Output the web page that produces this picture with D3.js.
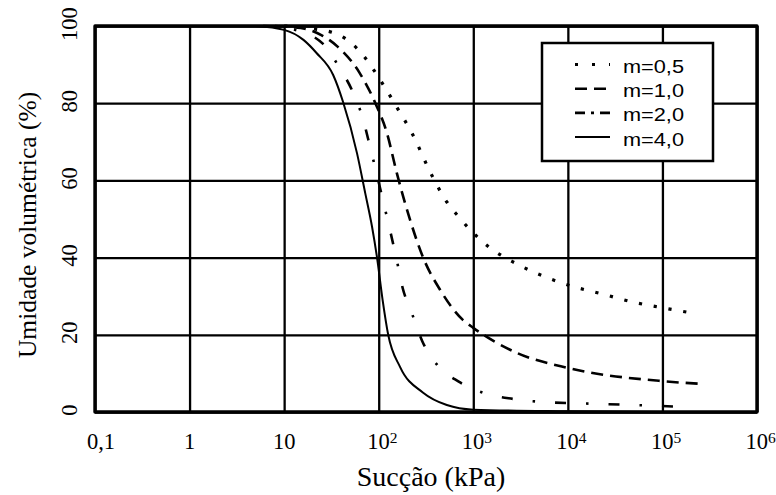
<!DOCTYPE html>
<html>
<head>
<meta charset="utf-8">
<script src="https://cdn.jsdelivr.net/npm/d3@7"></script>
<style>
  html, body { margin: 0; padding: 0; background: #fff; }
  svg { display: block; }
</style>
</head>
<body>
<svg id="chart" width="776" height="495"></svg>
<script>
// ---------- DATA ----------
const seriesNames = ["m=0,5", "m=1,0", "m=2,0", "m=4,0"];

// m = 0,5 (dotted)
const suctionM05 = [10, 20, 38, 68, 102, 155, 224, 363, 525, 676, 1450, 2760, 5500, 11000, 23000, 48000, 100000, 210000];
const moistM05   = [100, 99.3, 97.7, 92.5, 86.3, 79, 72.3, 61.4, 54.4, 51, 42.8, 38.6, 35.2, 32.6, 30.6, 28.5, 27, 25.6];

// m = 1,0 (dashed)
const suctionM10 = [8, 15, 25, 37, 63, 91, 122, 155, 215, 295, 447, 780, 1000, 2900, 10000, 100000, 250000];
const moistM10   = [100, 99.5, 97.6, 94.6, 87.8, 80.3, 72.3, 62, 49.7, 40, 31.6, 23.8, 21.8, 15.3, 11.4, 8, 7.3];

// m = 2,0 (dash-dot)
const suctionM20 = [6, 12, 26, 38, 53, 68, 81, 112, 132, 155, 178, 224, 288, 415, 710, 1300, 2600, 5400, 21000, 87000, 170000];
const moistM20   = [100, 99.2, 95.3, 89.4, 83, 76, 68.7, 54.4, 47, 39.4, 32.4, 25.6, 18.4, 12.2, 7.8, 4.9, 3.4, 2.6, 2.1, 1.6, 1.3];

// m = 4,0 (solid)
const suctionM40 = [5, 10, 16, 22, 33, 42, 59, 72, 85, 96, 110, 126, 168, 295, 525, 1000, 10000, 100000];
const moistM40   = [100, 99, 96.4, 93, 87.3, 80.3, 67, 56.7, 48, 40, 29, 20, 11.7, 5, 1.8, 0.6, 0.2, 0];

const xTicks     = [0.1, 1, 10, 100, 1000, 10000, 100000, 1000000];
const xTickBase  = ["0,1", "1", "10", "10", "10", "10", "10", "10"];
const xTickExp   = ["", "", "", "2", "3", "4", "5", "6"];
const yTicks     = [0, 20, 40, 60, 80, 100];
const yTickLabels = ["0", "20", "40", "60", "80", "100"];

const xTitle = "Sucção (kPa)";
const yTitle = "Umidade volumétrica (%)";

// ---------- LAYOUT ----------
const svg = d3.select("#chart");
const L = 95, R = 757, T = 26, B = 412;

const x = d3.scaleLog().domain([0.1, 1e6]).range([L, R]);
const y = d3.scaleLinear().domain([0, 100]).range([B, T]);

const serif = "'Liberation Serif', 'Times New Roman', Times, serif";
const sans = "'Liberation Sans', Arial, Helvetica, sans-serif";

// grid via axes
const gx = svg.append("g")
  .attr("transform", `translate(0,${B})`)
  .call(d3.axisBottom(x).tickValues(xTicks).tickSize(-(B - T)).tickFormat(""));
gx.select(".domain").remove();
gx.selectAll(".tick line").attr("stroke", "#000").attr("stroke-width", 2.3);

const gy = svg.append("g")
  .attr("transform", `translate(${L},0)`)
  .call(d3.axisLeft(y).tickValues(yTicks).tickSize(-(R - L)).tickFormat(""));
gy.select(".domain").remove();
gy.selectAll(".tick line").attr("stroke", "#000").attr("stroke-width", 2.3);

// ---------- CURVES ----------
const line = d3.line()
  .x(d => x(d[0]))
  .y(d => y(d[1]))
  .curve(d3.curveMonotoneX);

const styles = [
  { dash: "3.2,11.8", width: 3.2 },
  { dash: "12,7", width: 2.6 },
  { dash: "11,20,2.5,20", width: 2.6 },
  { dash: null, width: 2 }
];
const series = [
  d3.zip(suctionM05, moistM05),
  d3.zip(suctionM10, moistM10),
  d3.zip(suctionM20, moistM20),
  d3.zip(suctionM40, moistM40)
];

series.forEach((pts, i) => {
  svg.append("path")
    .attr("d", line(pts))
    .attr("fill", "none")
    .attr("stroke", "#000")
    .attr("stroke-width", styles[i].width)
    .attr("stroke-dasharray", styles[i].dash);
});

// ---------- FRAME ----------
svg.append("rect")
  .attr("x", L).attr("y", T)
  .attr("width", R - L).attr("height", B - T)
  .attr("fill", "none")
  .attr("stroke", "#000")
  .attr("stroke-width", 3.4)
  .attr("stroke-linejoin", "round");

// ---------- TICK LABELS ----------
xTicks.forEach((v, i) => {
  const t = svg.append("text")
    .attr("y", 449)
    .attr("font-family", serif)
    .attr("font-size", 22.5)
    .attr("fill", "#000");
  if (xTickExp[i]) {
    t.attr("x", x(v) - 11.5).attr("text-anchor", "start");
    t.append("tspan").text(xTickBase[i]);
    t.append("tspan").attr("font-size", 15.5).attr("dy", -6.5).text(xTickExp[i]);
  } else {
    t.attr("x", x(v) + (i === 0 ? 6 : 0)).attr("text-anchor", "middle").text(xTickBase[i]);
  }
});

yTicks.forEach((v, i) => {
  svg.append("text")
    .attr("transform", `translate(77,${y(v) - 2}) rotate(-90)`)
    .attr("text-anchor", "middle")
    .attr("font-family", serif)
    .attr("font-size", 22.5)
    .attr("fill", "#000")
    .text(yTickLabels[i]);
});

// ---------- AXIS TITLES ----------
svg.append("text")
  .attr("x", 431).attr("y", 486)
  .attr("text-anchor", "middle")
  .attr("font-family", serif)
  .attr("font-size", 28)
  .attr("fill", "#000")
  .text(xTitle);

svg.append("text")
  .attr("transform", "translate(36,225) rotate(-90)")
  .attr("text-anchor", "middle")
  .attr("font-family", serif)
  .attr("font-size", 25.5)
  .attr("fill", "#000")
  .text(yTitle);

// ---------- LEGEND ----------
const lg = svg.append("g");
lg.append("rect")
  .attr("x", 542).attr("y", 43)
  .attr("width", 171).attr("height", 118)
  .attr("fill", "#fff")
  .attr("stroke", "#000")
  .attr("stroke-width", 2.5);

seriesNames.forEach((name, i) => {
  const ry = 64.5 + i * 24.2;
  lg.append("line")
    .attr("x1", 575).attr("x2", 610)
    .attr("y1", ry).attr("y2", ry)
    .attr("stroke", "#000")
    .attr("stroke-width", styles[i].width)
    .attr("stroke-dasharray", i === 0 ? "3,14" : (i === 2 ? "10,6,3,6" : styles[i].dash));
  lg.append("text")
    .attr("x", 623).attr("y", ry + 8.5)
    .attr("font-family", sans)
    .attr("font-size", 18)
    .attr("textLength", 61)
    .attr("lengthAdjust", "spacingAndGlyphs")
    .attr("fill", "#000")
    .text(name);
});
</script>
</body>
</html>
